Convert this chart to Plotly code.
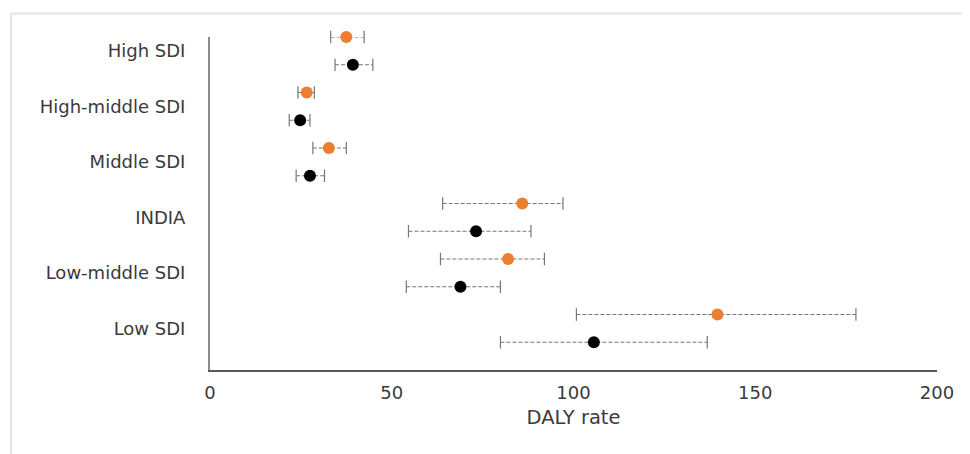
import plotly.graph_objects as go

categories = ["High SDI", "High-middle SDI", "Middle SDI", "INDIA", "Low-middle SDI", "Low SDI"]

orange_val = [37.5, 26.6, 32.7, 85.9, 82.0, 139.6]
orange_lo = [33.2, 24.2, 28.3, 64.0, 63.4, 100.8]
orange_hi = [42.4, 28.7, 37.5, 97.1, 92.0, 177.7]

black_val = [39.3, 24.8, 27.5, 73.2, 68.9, 105.6]
black_lo = [34.4, 21.8, 23.7, 54.6, 54.0, 79.9]
black_hi = [44.8, 27.5, 31.5, 88.3, 79.9, 136.8]

x_ticks = [0, 50, 100, 150, 200]

n = len(categories)
# vertical positions: top category highest
cat_pos = [n - i - 0.25 for i in range(n)]
orange_y = [p + 0.25 for p in cat_pos]
black_y = [p - 0.25 for p in cat_pos]

ORANGE = "#ED7D31"
BLACK = "#000000"
BAR = "#767676"
TXT = "#3a3a3a"
FONT = "DejaVu Sans, Open Sans, sans-serif"

fig = go.Figure()


def add_series(vals, lo, hi, ys, color):
    lx, ly = [], []
    for a, b, y in zip(lo, hi, ys):
        lx += [a, b, None]
        ly += [y, y, None]
    fig.add_trace(go.Scatter(x=lx, y=ly, mode="lines", cliponaxis=False,
                             line=dict(color=BAR, width=1.1, dash="4px,2px"),
                             hoverinfo="skip", showlegend=False))
    fig.add_trace(go.Scatter(x=lo + hi, y=ys + ys, mode="markers", cliponaxis=False,
                             marker=dict(symbol="line-ns", size=9,
                                         line=dict(color=BAR, width=1.2)),
                             hoverinfo="skip", showlegend=False))
    fig.add_trace(go.Scatter(x=vals, y=ys, mode="markers", cliponaxis=False,
                             marker=dict(color=color, size=12, line=dict(width=0)),
                             showlegend=False))


add_series(orange_val, orange_lo, orange_hi, orange_y, ORANGE)
add_series(black_val, black_lo, black_hi, black_y, BLACK)

# page body has an 8px margin; figure size and margins compensate for it
OFF = 8
W, H = 970 - OFF, 454 - OFF
L, R, T, B = 210 - OFF, 970 - 937, 37 - OFF, 454 - 370
pw = W - L - R
ph = H - T - B


def px_x(px):
    return (px - OFF - L) / pw


def px_y(py):
    return (H - B - (py - OFF)) / ph


fig.add_shape(type="line", xref="paper", yref="paper",
              x0=px_x(11), x1=px_x(990), y0=px_y(13.5), y1=px_y(13.5),
              line=dict(color="#e4e4e4", width=2))
fig.add_shape(type="line", xref="paper", yref="paper",
              x0=px_x(11), x1=px_x(11), y0=px_y(13.5), y1=px_y(480),
              line=dict(color="#e4e4e4", width=2))

fig.update_layout(
    width=W, height=H, autosize=False,
    margin=dict(l=L, r=R, t=T, b=B),
    paper_bgcolor="white", plot_bgcolor="white",
    font=dict(family=FONT, color=TXT, size=18),
    xaxis=dict(range=[0, 200], tickvals=x_ticks, ticktext=[str(v) for v in x_ticks],
               showgrid=False, zeroline=False, showline=True, linecolor="#595959",
               linewidth=1.5, ticks="", ticklen=0,
               tickfont=dict(size=18, color=TXT, family=FONT),
               title=dict(text="DALY rate", font=dict(size=19.5, color=TXT, family=FONT), standoff=8)),
    yaxis=dict(range=[0, n], tickvals=cat_pos, ticktext=categories,
               showgrid=False, zeroline=False, showline=True, linecolor="#8c8c8c",
               linewidth=2, ticks="", ticklen=0,
               tickfont=dict(size=18, color=TXT, family=FONT)),
)
fig.update_yaxes(ticklabelstandoff=19)
fig.update_xaxes(ticklabelstandoff=6)

fig.write_html("out.html")
